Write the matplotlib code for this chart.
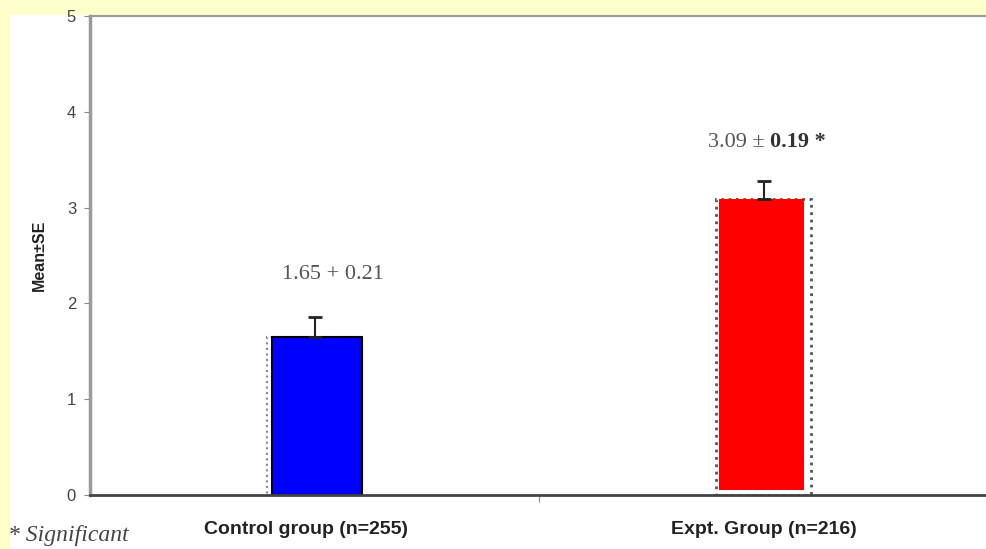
import matplotlib
matplotlib.use("Agg")
import matplotlib.pyplot as plt
from matplotlib.patches import Rectangle

groups = ["Control group (n=255)", "Expt. Group (n=216)"]
means = [1.65, 3.09]
errors = [0.21, 0.19]
bar_colors = ["#0000ff", "#ff0000"]
yticks = [0, 1, 2, 3, 4, 5]

fig = plt.figure(figsize=(9.86, 5.49), dpi=100)
fig.patch.set_facecolor("#ffffcc")
# white panel behind the chart
fig.patches.append(Rectangle((10 / 986, 0), 1, 1 - 15 / 549, transform=fig.transFigure,
                             facecolor="white", edgecolor="none", zorder=-5))

ax = fig.add_axes([90 / 986, 54 / 549, 898 / 986, 479 / 549])
ax.set_zorder(2)
ax.set_facecolor("white")

x = list(range(len(groups)))
# grey dotted "shadow" frames behind the bars
ax.bar(x, means, width=0.21, color="white", edgecolor=["#888888", "#555555"],
       linewidth=[1.5, 2], linestyle=":", zorder=1)
ax.bar([x[0] + 0.005], [means[0]], width=0.2, color=bar_colors[0], edgecolor="black",
       linewidth=1.5, zorder=2)
ax.bar([x[1] - 0.005], [means[1] - 0.05], width=0.19, bottom=0.05, color=bar_colors[1],
       edgecolor="none", zorder=2)
ax.errorbar(x, means, yerr=[[0, 0], errors], fmt="none", ecolor="#222222",
            elinewidth=1.5, capsize=5, capthick=2, zorder=3)

ax.set_xlim(-0.5, 1.5)
ax.set_ylim(0, 5)
ax.set_yticks(yticks)
ax.set_yticklabels([str(t) for t in yticks], color="#444444", fontsize=12,
                   family="Liberation Sans")
ax.set_xticks([0.5])
ax.set_xticklabels([""])
ax.tick_params(axis="y", direction="out", length=4, color="#888888", pad=6)
ax.tick_params(axis="x", direction="out", length=5, color="#888888")

ax.spines["left"].set_color("#999999")
ax.spines["left"].set_linewidth(2.5)
ax.spines["bottom"].set_color("#444444")
ax.spines["bottom"].set_linewidth(2)
ax.spines["top"].set_color("#999999")
ax.spines["top"].set_linewidth(1.5)
ax.spines["right"].set_visible(False)

ax.set_ylabel("Mean±SE", fontsize=11.5, fontweight="bold", color="#222222",
              family="Liberation Sans", labelpad=14)

# value labels
ax.text(x[0] + 0.04, 2.3, "1.65 + 0.21", ha="center", va="center",
        family="Liberation Serif", fontsize=16, color="#555555")
ax.text(x[1] + 0.015, 3.68, "3.09 ± ", ha="right", va="center",
        family="Liberation Serif", fontsize=16, color="#555555")
ax.text(x[1] + 0.015, 3.68, "0.19 *", ha="left", va="center",
        family="Liberation Serif", fontsize=16, fontweight="bold", color="#333333")

# group labels
for xi, g in zip([x[0] - 0.02, x[1]], groups):
    ax.text(xi, -0.36, g, ha="center", va="center", fontsize=14,
            fontweight="bold", color="#222222", family="Liberation Sans", clip_on=False)

fig.text(8 / 986, 1 - 535 / 549, "* Significant", ha="left", va="center",
         family="Liberation Serif", style="italic", fontsize=17, color="#444444")

fig.savefig("out.png", dpi=100, facecolor=fig.get_facecolor())
